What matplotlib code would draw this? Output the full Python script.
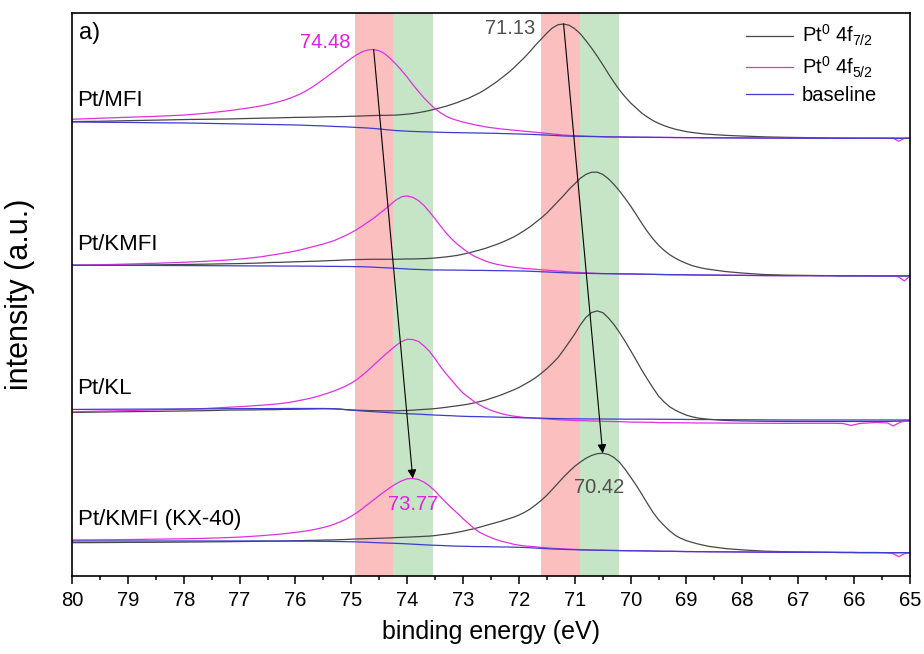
import numpy as np
import matplotlib
matplotlib.use("Agg")
import matplotlib.pyplot as plt
from matplotlib.ticker import MultipleLocator

plt.rcParams["font.family"] = ["Liberation Sans", "DejaVu Sans"]
plt.rcParams["mathtext.default"] = "regular"

# binding energy grid (eV), shared by all traces
energy = [80, 79.5, 79, 78.5, 78, 77.6, 77.2, 76.9,
          76.6, 76.5, 76.4, 76.3, 76.2, 76.1, 76.0, 75.9, 75.8, 75.7,
          75.6, 75.5, 75.4, 75.3, 75.2, 75.1, 75.0, 74.9, 74.8, 74.7,
          74.6, 74.5, 74.4, 74.3, 74.2, 74.1, 74.0, 73.9, 73.8, 73.7,
          73.6, 73.5, 73.4, 73.3, 73.2, 73.1, 73.0, 72.9, 72.8, 72.7,
          72.6, 72.5, 72.4, 72.3, 72.2, 72.1, 72.0, 71.9, 71.8, 71.7,
          71.6, 71.5, 71.4, 71.3, 71.2, 71.1, 71.0, 70.9, 70.8, 70.7,
          70.6, 70.5, 70.4, 70.3, 70.2, 70.1, 70.0, 69.9, 69.8, 69.7,
          69.6, 69.5, 69.4, 69.3, 69.2, 69.1, 69.0, 68.9, 68.8, 68.7,
          68.6, 68.3, 68.0, 67.6, 67.2, 66.8, 66.4, 66.2, 66.05, 65.9,
          65.6, 65.4, 65.3, 65.2, 65.1, 65.0]

# ---- Pt/MFI: stacked baseline + Pt0 components above it ----
base_mfi = [454.0, 453.7, 453.5, 453.2, 453.0, 452.6, 452.2, 451.9,
            451.6, 451.5, 451.4, 451.3, 451.2, 451.1, 451.0, 450.8, 450.6, 450.4,
            450.2, 450.0, 449.8, 449.5, 449.3, 449.1, 448.8, 448.5, 448.2, 447.9,
            447.5, 447.0, 446.4, 445.9, 445.4, 445.1, 444.8, 444.5, 444.3, 444.1,
            444.0, 443.8, 443.7, 443.5, 443.4, 443.3, 443.2, 443.1, 443.0, 442.9,
            442.8, 442.7, 442.6, 442.4, 442.3, 442.1, 442.0, 441.8, 441.6, 441.4,
            441.1, 440.9, 440.6, 440.3, 440.0, 439.8, 439.7, 439.6, 439.5, 439.4,
            439.3, 439.2, 439.1, 439.0, 439.0, 438.9, 438.8, 438.8, 438.7, 438.7,
            438.6, 438.6, 438.5, 438.5, 438.4, 438.4, 438.3, 438.3, 438.3, 438.2,
            438.2, 438.1, 438.0, 437.9, 437.8, 437.8, 437.7, 437.7, 437.7, 437.7,
            437.7, 437.7, 437.7, 437.7, 437.7, 437.7]
f72_mfi = [0.4, 1.0, 1.8, 2.6, 3.4, 4.1, 4.8, 5.5,
           6.2, 6.4, 6.6, 6.8, 7.1, 7.3, 7.6, 7.8, 8.1, 8.4,
           8.7, 9.1, 9.4, 9.7, 10.1, 10.4, 10.9, 11.3, 11.8, 12.3,
           12.9, 13.6, 14.2, 14.8, 15.5, 16.2, 17.0, 17.9, 19.0, 20.2,
           21.5, 23.0, 24.6, 26.3, 28.2, 30.2, 32.5, 34.7, 37.5, 40.3,
           43.7, 47.6, 51.5, 56.0, 60.5, 65.5, 71.1, 76.7, 82.9, 89.6,
           95.8, 101.9, 107.5, 110.9, 112.0, 110.9, 107.5, 102.5, 95.8, 88.5,
           80.6, 72.2, 63.3, 54.9, 47.0, 40.3, 34.2, 29.1, 24.1, 20.2,
           16.8, 14.0, 11.8, 9.9, 8.3, 7.1, 6.0, 5.2, 4.5, 3.9,
           3.5, 2.5, 1.9, 1.2, 0.8, 0.5, 0.3, 0.2, 0.2, 0.1,
           0.1, 0, 0, 0, 0, 0]
f52_mfi = [2.7, 4.0, 5.2, 6.4, 7.9, 10.1, 13.0, 15.6,
           18.6, 19.9, 21.3, 22.9, 24.6, 26.6, 28.9, 31.6, 34.8, 38.4,
           42.4, 46.7, 51.0, 55.4, 59.9, 64.4, 68.8, 72.8, 76.0, 78.2,
           79.0, 78.2, 75.8, 71.5, 66.4, 60.4, 54.1, 47.0, 40.3, 34.0,
           28.4, 23.3, 19.4, 16.2, 13.8, 12.2, 10.7, 9.5, 8.3, 7.3,
           6.3, 5.6, 5.0, 4.5, 4.1, 3.7, 3.3, 2.9, 2.6, 2.3,
           2.0, 1.7, 1.4, 1.2, 0.9, 0.8, 0.6, 0.5, 0.3, 0.2,
           0.2, 0, 0, 0, 0, 0, 0, 0, 0, 0,
           0, 0, 0, 0, 0, 0, 0, 0, 0, 0,
           0, 0, 0, 0, 0, 0, 0, 0, 0, 0,
           0, 0, 0, -3, 0, 0]

# ---- Pt/KMFI ----
base_kmfi = [310.7, 310.6, 310.6, 310.5, 310.4, 310.3, 310.2, 310.1,
             310.0, 310.0, 310.0, 309.9, 309.9, 309.9, 309.9, 309.8, 309.8, 309.8,
             309.7, 309.7, 309.6, 309.6, 309.5, 309.5, 309.4, 309.3, 309.2, 309.0,
             308.8, 308.5, 308.2, 307.9, 307.6, 307.3, 307.0, 306.7, 306.5, 306.3,
             306.1, 306.0, 306.0, 305.9, 305.9, 305.8, 305.8, 305.7, 305.6, 305.6,
             305.5, 305.4, 305.3, 305.3, 305.2, 305.1, 305.0, 304.9, 304.7, 304.5,
             304.2, 304.0, 303.7, 303.5, 303.2, 303.0, 302.8, 302.7, 302.6, 302.5,
             302.4, 302.3, 302.3, 302.2, 302.1, 302.0, 302.0, 301.9, 301.8, 301.7,
             301.6, 301.5, 301.4, 301.3, 301.2, 301.2, 301.1, 301.0, 301.0, 300.9,
             300.9, 300.7, 300.6, 300.4, 300.3, 300.3, 300.2, 300.1, 300.1, 300.1,
             300.0, 300.0, 300.0, 300.0, 300.0, 300.0]
f72_kmfi = [0, 0.1, 0.3, 0.6, 1.1, 1.5, 2.0, 2.4,
            3.0, 3.3, 3.5, 3.7, 3.9, 4.1, 4.3, 4.5, 4.7, 4.9,
            5.1, 5.4, 5.7, 5.9, 6.2, 6.5, 6.8, 7.1, 7.3, 7.6,
            7.9, 8.2, 8.5, 8.8, 9.1, 9.6, 10.0, 10.3, 10.7, 11.0,
            11.5, 12.0, 12.5, 13.2, 13.9, 14.8, 16.0, 17.4, 18.9, 20.4,
            22.1, 24.2, 26.2, 28.4, 31.0, 33.7, 37.0, 40.6, 44.5, 49.1,
            53.8, 58.9, 65.0, 71.1, 77.2, 83.8, 89.4, 95.0, 99.0, 101.2,
            101.4, 99.3, 95.0, 89.4, 83.0, 75.7, 67.9, 59.5, 50.8, 42.7,
            35.5, 29.3, 24.1, 19.9, 16.6, 13.7, 11.4, 9.4, 7.9, 6.7,
            5.8, 3.7, 2.3, 1.0, 0.5, 0.2, 0.1, 0, 0, 0,
            0, 0, 0, 0, 0, 0]
f52_kmfi = [0, 0.6, 1.3, 2.2, 3.3, 4.4, 5.8, 7.3,
            9.3, 10.2, 11.1, 12.0, 13.0, 14.0, 15.1, 16.4, 17.9, 19.3,
            20.8, 22.3, 24.1, 25.9, 28.5, 31.0, 33.9, 37.2, 40.9, 44.9,
            48.9, 53.7, 58.4, 63.5, 68.3, 71.9, 73.0, 71.9, 69.0, 64.2,
            58.0, 51.1, 43.8, 36.9, 31.0, 25.9, 21.5, 17.5, 14.2, 11.7,
            9.5, 7.7, 6.4, 5.3, 4.4, 3.7, 3.1, 2.7, 2.4, 2.2,
            2.0, 1.8, 1.6, 1.5, 1.3, 1.1, 0.9, 0.7, 0.5, 0.4,
            0.2, 0.1, 0, 0, 0, 0, 0, 0, 0, 0,
            0, 0, 0, 0, 0, 0, 0, 0, 0, 0,
            0, 0, 0, 0, 0, 0, 0, 0, 0, 0,
            0, 0, 0, -1, -5, 0]

# ---- Pt/KL ----
base_kl = [166.5, 166.7, 166.8, 166.9, 167.0, 167.1, 167.3, 167.3,
           167.4, 167.4, 167.4, 167.4, 167.5, 167.5, 167.5, 167.5, 167.5, 167.5,
           167.5, 167.5, 167.4, 167.2, 166.8, 166.3, 165.8, 165.4, 165.0, 164.6,
           164.3, 163.9, 163.6, 163.2, 162.9, 162.6, 162.3, 162.0, 161.8, 161.5,
           161.2, 160.9, 160.7, 160.4, 160.2, 159.9, 159.7, 159.5, 159.4, 159.3,
           159.1, 159.0, 158.9, 158.7, 158.6, 158.4, 158.3, 158.1, 158.0, 157.9,
           157.8, 157.6, 157.5, 157.4, 157.3, 157.2, 157.2, 157.1, 157.1, 157.0,
           157.0, 157.0, 156.9, 156.9, 156.9, 156.8, 156.8, 156.8, 156.8, 156.8,
           156.8, 156.7, 156.7, 156.7, 156.6, 156.6, 156.5, 156.5, 156.4, 156.4,
           156.4, 156.3, 156.2, 156.1, 156.0, 156.0, 156.0, 156.0, 156.0, 156.0,
           156.0, 156.0, 156.0, 156.0, 156.0, 156.0]
f72_kl = [-3.0, -2.8, -2.5, -2.3, -2.0, -1.8, -1.4, -1.3,
          -1.2, -1.1, -1.1, -1.0, -0.9, -0.9, -0.8, -0.7, -0.6, -0.5,
          -0.4, -0.3, -0.2, -0.1, 0, 0.1, 0.3, 0.4, 0.6, 0.8,
          1.0, 1.3, 1.5, 1.9, 2.3, 2.8, 3.2, 3.8, 4.4, 5.1,
          5.7, 6.5, 7.3, 8.3, 9.3, 10.3, 11.3, 12.4, 13.7, 15.1,
          16.7, 18.6, 20.5, 22.7, 25.1, 27.5, 30.2, 33.5, 36.7, 40.5,
          44.8, 49.7, 55.1, 61.0, 68.6, 76.7, 84.8, 94.0, 101.5, 106.4,
          108.0, 106.4, 101.3, 94.6, 86.7, 78.0, 68.6, 58.9, 49.1, 40.0,
          31.3, 23.2, 17.3, 12.4, 9.2, 6.5, 4.3, 2.7, 1.6, 0.9,
          0.3, -0.8, -1.2, -1.4, -1.5, -1.5, -1.5, -1.5, -1.5, -1.5,
          -1.5, -1.4, -1.3, -1.2, -1.1, -1.0]
f52_kl = [-2.4, -1.8, -1.4, -0.8, -0.2, 0.4, 1.4, 2.3,
          3.4, 3.8, 4.3, 4.8, 5.4, 6.2, 7.2, 8.3, 9.4, 10.7,
          12.2, 13.9, 15.8, 18.0, 20.6, 23.6, 27.0, 31.0, 35.8, 41.0,
          46.5, 52.0, 57.4, 62.6, 67.6, 71.8, 74.4, 74.4, 72.8, 68.6,
          63.4, 56.3, 48.4, 41.6, 35.3, 28.9, 23.3, 19.1, 15.0, 11.6,
          9.0, 6.6, 4.9, 3.4, 2.3, 1.5, 0.9, 0.4, 0.2, -0.1,
          -0.4, -0.6, -0.9, -1.1, -1.4, -1.5, -1.7, -1.8, -1.9, -2.0,
          -2.1, -2.3, -2.4, -2.5, -2.6, -2.7, -2.9, -3.0, -3.0, -3.1,
          -3.2, -3.4, -3.4, -3.4, -3.4, -3.4, -3.4, -3.4, -3.4, -3.4,
          -3.4, -3.4, -3.4, -3.4, -3.4, -3.3, -3.3, -3.5, -5.5, -3.5,
          -2.5, -3.0, -6.0, -3.0, -1.0, -0.7]

# ---- Pt/KMFI (KX-40) ----
base_kx40 = [35.0, 35.0, 35.0, 35.0, 35.0, 35.0, 35.0, 35.0,
             35.0, 35.0, 34.9, 34.9, 34.9, 34.9, 34.9, 34.8, 34.8, 34.8,
             34.7, 34.7, 34.6, 34.5, 34.4, 34.3, 34.2, 34.1, 33.9, 33.7,
             33.4, 33.2, 33.0, 32.8, 32.6, 32.4, 32.1, 31.8, 31.5, 31.2,
             30.9, 30.7, 30.5, 30.2, 30.0, 29.8, 29.7, 29.6, 29.4, 29.4,
             29.3, 29.2, 29.1, 29.0, 29.0, 28.8, 28.7, 28.5, 28.2, 27.9,
             27.6, 27.3, 27.0, 26.8, 26.6, 26.4, 26.3, 26.1, 26.0, 25.9,
             25.8, 25.7, 25.6, 25.5, 25.4, 25.3, 25.2, 25.2, 25.1, 25.0,
             24.9, 24.8, 24.7, 24.7, 24.6, 24.5, 24.4, 24.4, 24.3, 24.3,
             24.2, 24.1, 24.0, 23.8, 23.7, 23.7, 23.6, 23.5, 23.5, 23.4,
             23.4, 23.3, 23.3, 23.3, 23.3, 23.3]
f72_kx40 = [-1.7, -1.6, -1.4, -1.3, -1.1, -0.9, -0.7, -0.5,
            -0.3, -0.2, -0.1, 0, 0.1, 0.2, 0.4, 0.5, 0.7, 0.8,
            1.0, 1.2, 1.4, 1.6, 1.9, 2.2, 2.6, 2.9, 3.3, 3.7,
            4.1, 4.5, 4.9, 5.3, 5.8, 6.2, 6.7, 7.3, 7.8, 8.4,
            9.0, 9.7, 10.7, 11.6, 12.7, 13.9, 15.1, 16.5, 17.9, 19.4,
            21.1, 22.8, 24.4, 26.1, 27.9, 29.9, 32.2, 35.1, 38.7, 43.2,
            48.0, 53.4, 59.7, 66.0, 72.3, 78.1, 83.4, 87.8, 91.7, 94.6,
            96.5, 97.0, 96.0, 93.1, 88.3, 81.5, 73.7, 65.5, 56.7, 47.5,
            38.8, 31.5, 25.7, 20.4, 16.0, 13.1, 10.9, 9.2, 7.8, 6.5,
            5.4, 3.3, 2.1, 1.0, 0.5, 0.2, 0, 0, 0, 0,
            0, 0, 0, 0, 0, 0]
f52_kx40 = [1.0, 1.2, 1.4, 1.8, 2.2, 2.7, 3.4, 4.2,
            5.3, 5.8, 6.3, 6.8, 7.4, 8.0, 8.7, 9.5, 10.3, 11.3,
            12.5, 13.8, 15.4, 17.4, 19.7, 22.3, 25.6, 29.2, 33.5, 38.1,
            42.7, 47.3, 51.6, 55.8, 59.5, 62.7, 65.0, 65.7, 65.0, 62.7,
            59.1, 54.2, 48.3, 43.0, 37.8, 32.9, 27.6, 22.7, 18.1, 14.1,
            11.5, 9.2, 7.2, 5.6, 4.3, 3.0, 2.1, 1.6, 1.4, 1.2,
            1.0, 0.9, 0.7, 0.6, 0.5, 0.4, 0.3, 0.2, 0.1, 0,
            0, 0, 0, 0, 0, 0, 0, 0, 0, 0,
            0, 0, 0, 0, 0, 0, 0, 0, 0, 0,
            0, 0, 0, 0, 0, 0, 0, 0, 0, 0,
            0, 0, -1, -4, -1, 0]

sample_names = ["Pt/MFI", "Pt/KMFI", "Pt/KL", "Pt/KMFI (KX-40)"]
baselines = [base_mfi, base_kmfi, base_kl, base_kx40]
comp72 = [f72_mfi, f72_kmfi, f72_kl, f72_kx40]
comp52 = [f52_mfi, f52_kmfi, f52_kl, f52_kx40]

# shaded binding-energy windows (eV)
red_bands = [(74.93, 74.26), (71.61, 70.91)]
green_bands = [(74.26, 73.54), (70.91, 70.21)]

# quoted peak positions: top spectrum and bottom spectrum (5/2, 7/2)
labels_top = ["74.48", "71.13"]
labels_bottom = ["73.77", "70.42"]

C72, C52, CBASE = "#474747", "#e030e0", "#3c3cd0"

fig = plt.figure(figsize=(9.24, 6.54), dpi=100)
ax = fig.add_axes([0.0779, 0.1193, 0.9069, 0.8609])

for lo, hi in red_bands:
    ax.axvspan(lo, hi, color="#fbbfbf", lw=0, zorder=0)
for lo, hi in green_bands:
    ax.axvspan(lo, hi, color="#c6e5c6", lw=0, zorder=0)

x = np.array(energy)
apex = []
for i, name in enumerate(sample_names):
    base = np.array(baselines[i])
    y72 = base + np.array(comp72[i])
    y52 = base + np.array(comp52[i])
    ax.plot(x, y72, color=C72, lw=0.9, label=r"Pt$^0$ 4f$_{7/2}$" if i == 0 else None)
    ax.plot(x, y52, color=C52, lw=0.9, label=r"Pt$^0$ 4f$_{5/2}$" if i == 0 else None)
    ax.plot(x, base, color=CBASE, lw=0.9, label="baseline" if i == 0 else None)
    ax.text(79.9, base[0] + 21, name, fontsize=16, ha="left", va="center")
    j52, j72 = np.argmax(y52), np.argmax(y72)
    apex.append(((x[j52], y52[j52]), (x[j72], y72[j72])))

# arrows: apex of the top spectrum -> apex of the bottom spectrum
for k in range(2):
    ax.annotate("", xy=apex[-1][k], xytext=apex[0][k],
                arrowprops=dict(arrowstyle="-|>", color="black", lw=0.8,
                                mutation_scale=13, shrinkA=0, shrinkB=0))

ax.annotate(labels_top[0], xy=apex[0][0], xytext=(-17, 4.7), textcoords="offset points",
            ha="right", va="center", color="#e020e0", fontsize=14.5)
ax.annotate(labels_top[1], xy=apex[0][1], xytext=(-20.5, -3.6), textcoords="offset points",
            ha="right", va="center", color="#505050", fontsize=14.5)
ax.annotate(labels_bottom[0], xy=apex[-1][0], xytext=(0, -19), textcoords="offset points",
            ha="center", va="center", color="#e020e0", fontsize=14.5)
ax.annotate(labels_bottom[1], xy=apex[-1][1], xytext=(-2.4, -24.6), textcoords="offset points",
            ha="center", va="center", color="#505050", fontsize=14.5)

ax.text(0.008, 0.965, "a)", transform=ax.transAxes, fontsize=17, va="center", ha="left")

ax.set_xlim(80, 65)
ax.set_ylim(0, 563)
ax.xaxis.set_major_locator(MultipleLocator(1))
ax.xaxis.set_minor_locator(MultipleLocator(0.5))
ax.tick_params(axis="x", which="major", direction="out", length=6, width=1.1, labelsize=14.5, pad=5)
ax.tick_params(axis="x", which="minor", direction="out", length=3, width=1.1)
ax.set_yticks([])
for sp in ax.spines.values():
    sp.set_linewidth(1.2)

ax.set_xlabel("binding energy (eV)", fontsize=18, labelpad=7)
ax.set_ylabel("intensity (a.u.)", fontsize=22)
ax.yaxis.set_label_coords(-0.062, 0.5)
ax.yaxis.label.set_va("center")

ax.legend(loc="upper right", bbox_to_anchor=(0.97, 0.996), frameon=False, fontsize=14.5,
          handlelength=2.35, handletextpad=0.4, labelspacing=0.3, borderaxespad=0)

fig.savefig("out.png", dpi=100)
